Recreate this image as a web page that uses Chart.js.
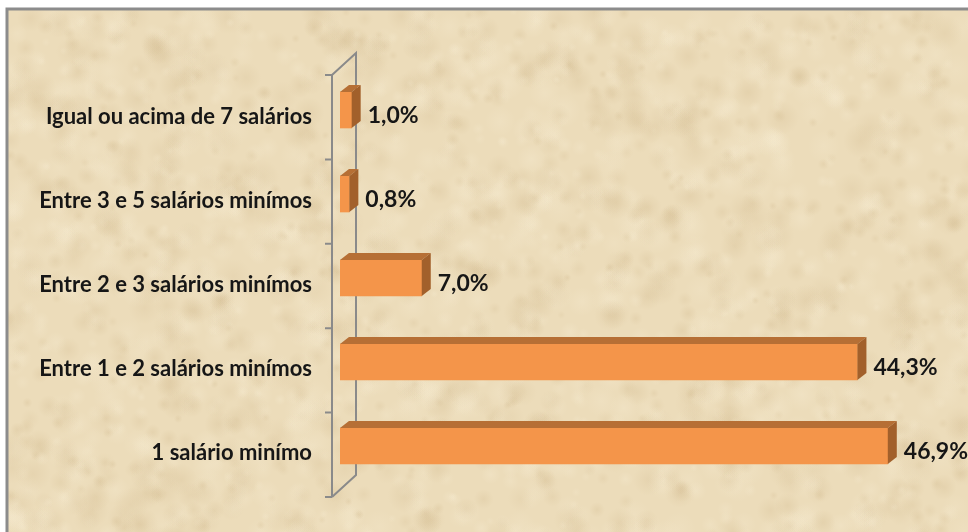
<!DOCTYPE html>
<html>
<head>
<meta charset="utf-8">
<script src="https://cdn.jsdelivr.net/npm/chart.js@4.4.0/dist/chart.umd.min.js"></script>
<style>
  html, body { margin: 0; padding: 0; background: #fff; }
  #wrap { position: relative; width: 968px; height: 532px; }
</style>
</head>
<body>
<div id="wrap"><canvas id="incomeChart" width="968" height="532"></canvas></div>
<script>
// Faixas de renda
const categories = [
    'Igual ou acima de 7 salários',
    'Entre 3 e 5 salários minímos',
    'Entre 2 e 3 salários minímos',
    'Entre 1 e 2 salários minímos',
    '1 salário minímo'
];
const shares = [1.0, 0.8, 7.0, 44.3, 46.9];
const valueLabels = ['1,0%', '0,8%', '7,0%', '44,3%', '46,9%'];

const DEPTH_X = 9, DEPTH_Y = 7;

// Parchment background with a soft mottled pattern (deterministic)
function hash(n) {
    const s = Math.sin(n * 127.1 + 311.7) * 43758.5453;
    return s - Math.floor(s);
}
const paperPlugin = {
    id: 'paper',
    beforeDraw(chart) {
        const ctx = chart.ctx;
        const W = chart.width, H = chart.height;
        ctx.save();
        ctx.fillStyle = '#ffffff';
        ctx.fillRect(0, 0, W, H);
        const x0 = 8, y0 = 10;
        ctx.beginPath();
        ctx.rect(x0, y0, W - x0, H - y0);
        ctx.clip();
        ctx.fillStyle = '#ecdcba';
        ctx.fillRect(x0, y0, W, H);
        for (let i = 0; i < 2200; i++) {
            const px = x0 + hash(i) * W;
            const py = y0 + hash(i + 5000) * H;
            const r = 4 + hash(i + 9000) * 14;
            const t = hash(i + 13000);
            const col = t < 0.45 ? 'rgba(205,180,135,' : 'rgba(250,241,218,';
            const g = ctx.createRadialGradient(px, py, 0, px, py, r);
            g.addColorStop(0, col + (0.14 + 0.12 * hash(i + 17000)) + ')');
            g.addColorStop(1, col + '0)');
            ctx.fillStyle = g;
            ctx.beginPath();
            ctx.ellipse(px, py, r * 1.5, r, hash(i + 21000) * Math.PI, 0, Math.PI * 2);
            ctx.fill();
        }
        ctx.restore();
        ctx.save();
        ctx.strokeStyle = '#8c8c8c';
        ctx.lineWidth = 3;
        ctx.beginPath();
        ctx.moveTo(x0 - 1, H);
        ctx.lineTo(x0 - 1, y0 - 1);
        ctx.lineTo(W, y0 - 1);
        ctx.stroke();
        ctx.restore();
    },
    // 3D wall lines on the category axis
    beforeDatasetsDraw(chart) {
        const ctx = chart.ctx;
        const area = chart.chartArea;
        const fx = area.left - 8, bx = area.left + 16;
        const top = area.top + 7, bottom = area.bottom + 9;
        const step = (bottom - top) / categories.length;
        ctx.save();
        ctx.strokeStyle = '#8a8a8a';
        ctx.lineWidth = 2;
        ctx.beginPath();
        ctx.moveTo(fx, top);
        ctx.lineTo(fx, bottom);
        ctx.moveTo(fx, top);
        ctx.lineTo(bx, top - 22);
        ctx.lineTo(bx, bottom - 22);
        ctx.lineTo(fx, bottom);
        for (let i = 0; i <= categories.length; i++) {
            const ty = top + i * step;
            ctx.moveTo(fx - 7, ty);
            ctx.lineTo(fx, ty);
        }
        ctx.stroke();
        ctx.restore();
    },
    // Top and side faces of the bars, then the value labels
    afterDatasetsDraw(chart) {
        const ctx = chart.ctx;
        const meta = chart.getDatasetMeta(0);
        ctx.save();
        meta.data.forEach((bar, i) => {
            const t = bar.y - bar.height / 2;
            const b = bar.y + bar.height / 2;
            ctx.fillStyle = '#b66f35';
            ctx.beginPath();
            ctx.moveTo(bar.base, t);
            ctx.lineTo(bar.base + DEPTH_X, t - DEPTH_Y);
            ctx.lineTo(bar.x + DEPTH_X, t - DEPTH_Y);
            ctx.lineTo(bar.x, t);
            ctx.closePath();
            ctx.fill();
            ctx.fillStyle = '#a2602b';
            ctx.beginPath();
            ctx.moveTo(bar.x, t);
            ctx.lineTo(bar.x + DEPTH_X, t - DEPTH_Y);
            ctx.lineTo(bar.x + DEPTH_X, b - DEPTH_Y);
            ctx.lineTo(bar.x, b);
            ctx.closePath();
            ctx.fill();

            ctx.fillStyle = '#161616';
            ctx.font = 'bold 23px Lato';
            ctx.textAlign = 'left';
            ctx.textBaseline = 'middle';
            ctx.fillText(valueLabels[i], bar.x + DEPTH_X + 7, bar.y + 6);
        });
        ctx.restore();
    }
};

new Chart(document.getElementById('incomeChart'), {
    type: 'bar',
    data: {
        labels: categories,
        datasets: [{
            data: shares,
            backgroundColor: '#f4954a',
            borderWidth: 0,
            barThickness: 36
        }]
    },
    options: {
        indexAxis: 'y',
        responsive: false,
        animation: false,
        layout: { padding: { top: 68, bottom: 44, right: 44, left: 0 } },
        plugins: {
            legend: { display: false },
            tooltip: { enabled: false }
        },
        scales: {
            x: {
                display: false,
                min: 0,
                max: 50
            },
            y: {
                afterFit(scale) { scale.width = 340; },
                grid: { display: false, drawTicks: false },
                border: { display: false },
                ticks: {
                    padding: 28,
                    labelOffset: 7,
                    color: '#161616',
                    font: { family: 'Lato', weight: 'bold', size: 22 }
                }
            }
        }
    },
    plugins: [paperPlugin]
});
</script>
</body>
</html>
